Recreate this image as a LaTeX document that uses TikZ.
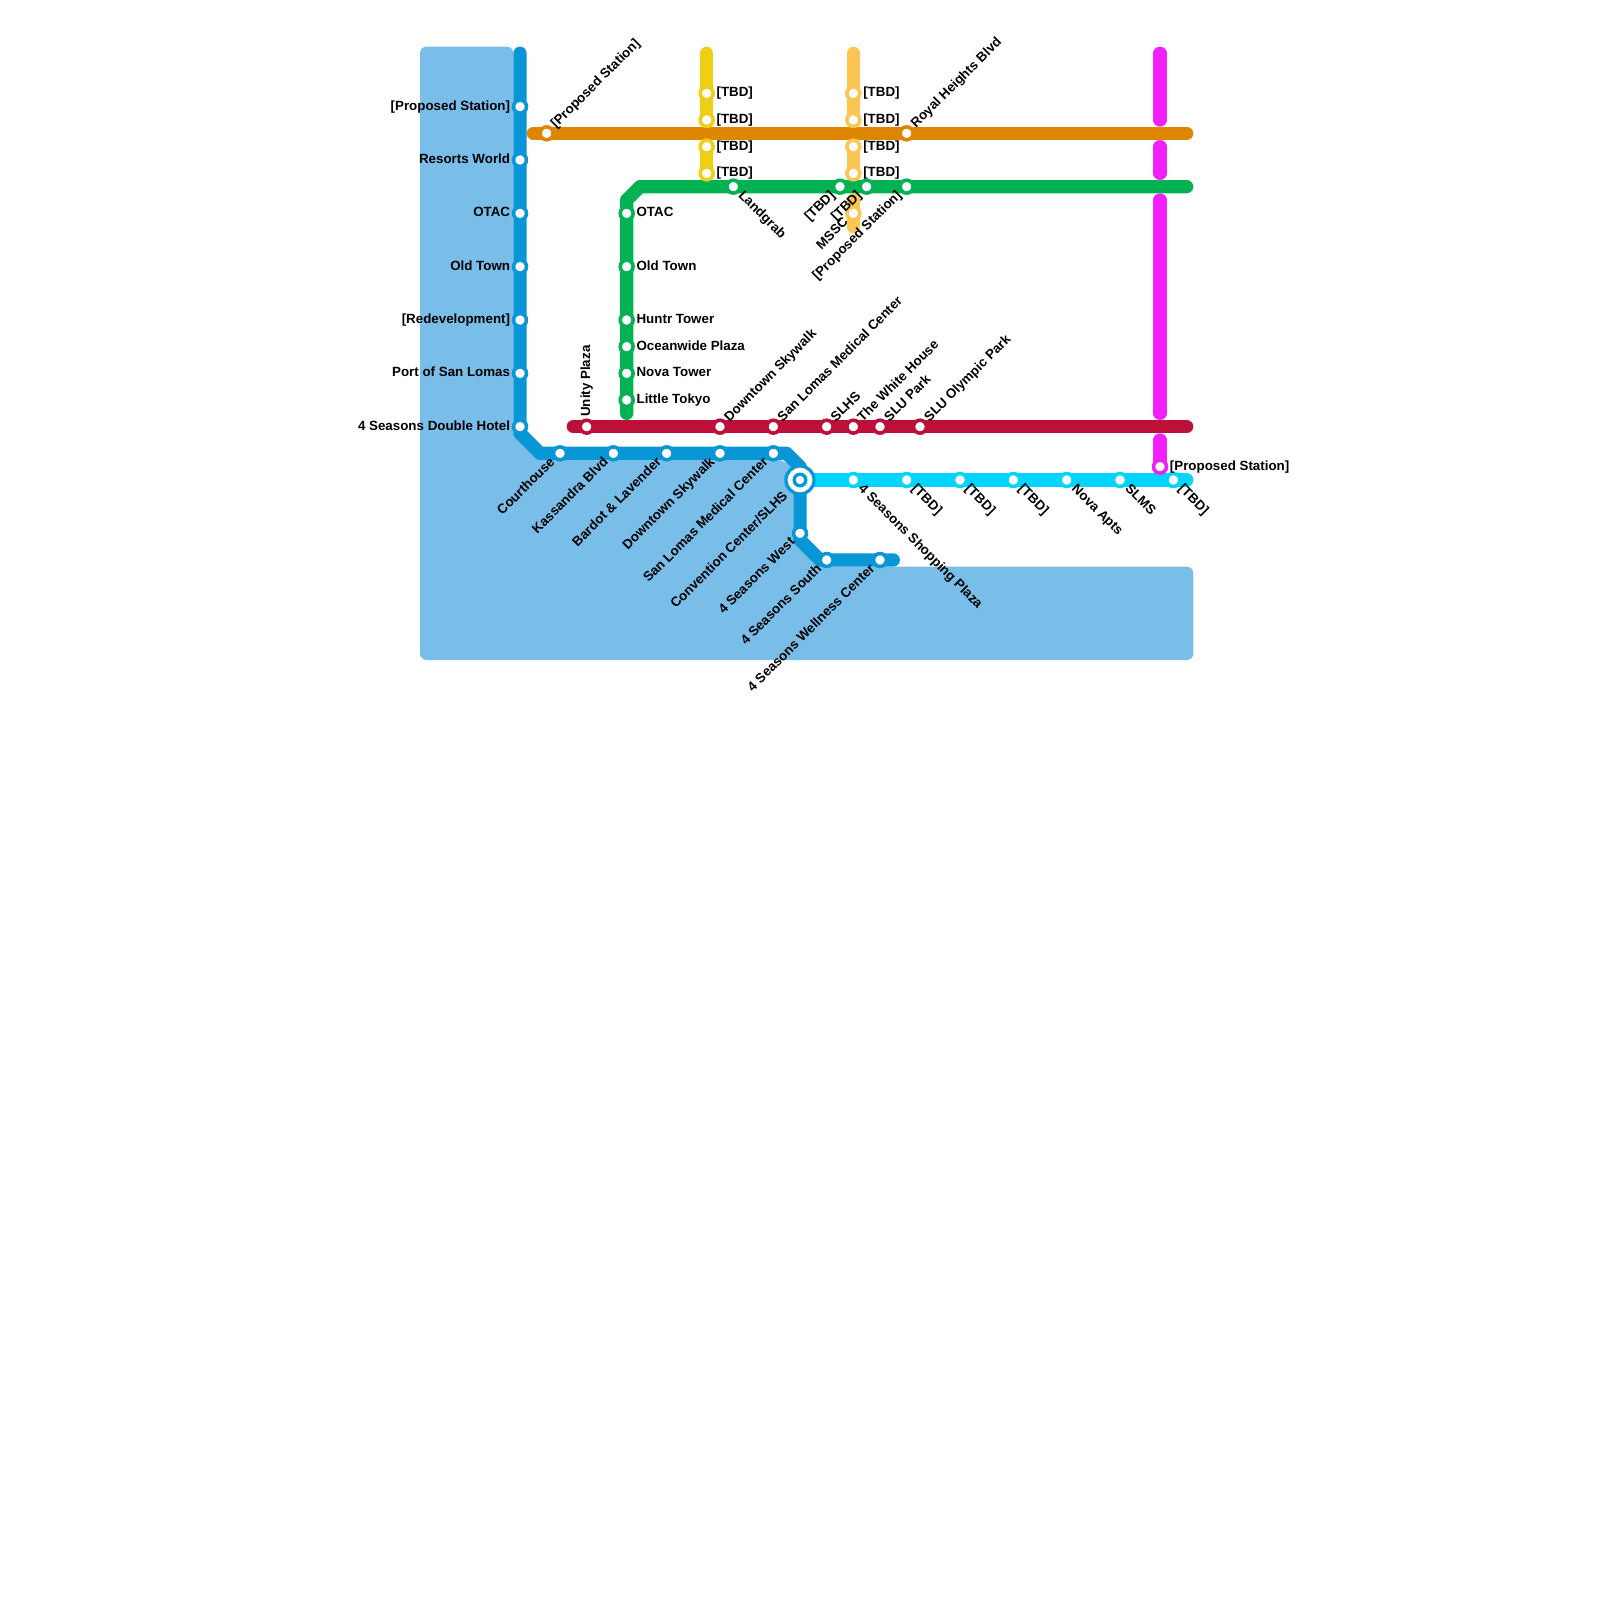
\documentclass[tikz,border=0pt]{standalone}
\usepackage{fontspec}
\setmainfont{Liberation Sans}
\usetikzlibrary{backgrounds}
\definecolor{waterblue}{HTML}{79BDE9}
\definecolor{lineblue}{HTML}{0896D7}
\definecolor{lineorange}{HTML}{DF8600}
\definecolor{lineyellow}{HTML}{F0CE15}
\definecolor{linepeach}{HTML}{FDC652}
\definecolor{linegreen}{HTML}{00B251}
\definecolor{linered}{HTML}{BD1038}
\definecolor{linepink}{HTML}{F31FFB}
\definecolor{linecyan}{HTML}{00D4FF}
\tikzset{
  route/.style={line width=7.09pt,line cap=round,line join=round},
  stn/.style={circle,fill=white,draw=#1,line width=1.9pt,minimum size=6.9pt,inner sep=0pt},
  lbl/.style={font=\bfseries\fontsize{7.12pt}{9pt}\selectfont,inner sep=0pt,outer sep=0pt},
  lbl r/.style={lbl,anchor=base west,xshift=5.3pt,yshift=-1.86pt},
  lbl l/.style={lbl,anchor=base east,xshift=-5.3pt,yshift=-1.86pt},
  lbl ur/.style={lbl,rotate=45,anchor=base west,xshift=5.3pt,yshift=-1.86pt},
  lbl dl/.style={lbl,rotate=45,anchor=base east,xshift=-5.3pt,yshift=-1.86pt},
  lbl dr/.style={lbl,rotate=-45,anchor=base west,xshift=5.3pt,yshift=-1.86pt},
  lbl up/.style={lbl,rotate=90,anchor=base west,xshift=5.3pt,yshift=-1.86pt},
}
\begin{document}
\begin{tikzpicture}[x=0.25cm,y=-0.25cm]
  \useasboundingbox (0,0) rectangle (120,120);
  % Blue line stations
  \node[stn=lineblue] (bl1) at (39,8) {};  \node[lbl l] (bl1t) at (bl1) {[Proposed Station]};
  \node[stn=lineblue] (bl2) at (39,12) {}; \node[lbl l] (bl2t) at (bl2) {Resorts World};
  \node[stn=lineblue] (bl3) at (39,16) {}; \node[lbl l] (bl3t) at (bl3) {OTAC};
  \node[stn=lineblue] (bl4) at (39,20) {}; \node[lbl l] (bl4t) at (bl4) {Old Town};
  \node[stn=lineblue] (bl5) at (39,24) {}; \node[lbl l] (bl5t) at (bl5) {[Redevelopment]};
  \node[stn=lineblue] (bl6) at (39,28) {}; \node[lbl l] (bl6t) at (bl6) {Port of San Lomas};
  \node[stn=lineblue] (bl7) at (39,32) {}; \node[lbl l] (bl7t) at (bl7) {4 Seasons Double Hotel};
  \node[stn=lineblue] (bl8) at (42,34) {}; \node[lbl dl] (bl8t) at (bl8) {Courthouse};
  \node[stn=lineblue] (bl9) at (46,34) {}; \node[lbl dl] (bl9t) at (bl9) {Kassandra Blvd};
  \node[stn=lineblue] (bl10) at (50,34) {}; \node[lbl dl] (bl10t) at (bl10) {Bardot \& Lavender};
  \node[stn=lineblue] (bl11) at (54,34) {}; \node[lbl dl] (bl11t) at (bl11) {Downtown Skywalk};
  \node[stn=lineblue] (bl12) at (58,34) {}; \node[lbl dl] (bl12t) at (bl12) {San Lomas Medical Center};
  \node[stn=lineblue] (bl14) at (60,40) {}; \node[lbl dl] (bl14t) at (bl14) {4 Seasons West};
  \node[stn=lineblue] (bl15) at (62,42) {}; \node[lbl dl] (bl15t) at (bl15) {4 Seasons South};
  \node[stn=lineblue] (bl16) at (66,42) {}; \node[lbl dl] (bl16t) at (bl16) {4 Seasons Wellness Center};
  % Interchange
  \node[circle,fill=white,draw=lineblue,line width=1.77pt,minimum size=15pt,inner sep=0pt] (hub) at (60,36) {};
  \node[circle,fill=white,draw=lineblue,line width=1.77pt,minimum size=6.2pt,inner sep=0pt] (hubcore) at (hub) {};
  \node[lbl dl,xshift=-5.5pt] (hubt) at (hub) {Convention Center/SLHS};
  % Orange line stations
  \node[stn=lineorange] (or1) at (41,10) {}; \node[lbl ur] (or1t) at (or1) {[Proposed Station]};
  \node[stn=lineorange] (or2) at (68,10) {}; \node[lbl ur] (or2t) at (or2) {Royal Heights Blvd};
  % Yellow line stations
  \node[stn=lineyellow] (ye1) at (53,7) {};  \node[lbl r] (ye1t) at (ye1) {[TBD]};
  \node[stn=lineyellow] (ye2) at (53,9) {};  \node[lbl r] (ye2t) at (ye2) {[TBD]};
  \node[stn=lineyellow] (ye3) at (53,11) {}; \node[lbl r] (ye3t) at (ye3) {[TBD]};
  \node[stn=lineyellow] (ye4) at (53,13) {}; \node[lbl r] (ye4t) at (ye4) {[TBD]};
  % Peach line stations
  \node[stn=linepeach] (pe1) at (64,7) {};  \node[lbl r] (pe1t) at (pe1) {[TBD]};
  \node[stn=linepeach] (pe2) at (64,9) {};  \node[lbl r] (pe2t) at (pe2) {[TBD]};
  \node[stn=linepeach] (pe3) at (64,11) {}; \node[lbl r] (pe3t) at (pe3) {[TBD]};
  \node[stn=linepeach] (pe4) at (64,13) {}; \node[lbl r] (pe4t) at (pe4) {[TBD]};
  \node[stn=linepeach] (pe5) at (64,16) {}; \node[lbl dl] (pe5t) at (pe5) {MSSC};
  % Green line stations
  \node[stn=linegreen] (gr1) at (47,16) {}; \node[lbl r] (gr1t) at (gr1) {OTAC};
  \node[stn=linegreen] (gr2) at (47,20) {}; \node[lbl r] (gr2t) at (gr2) {Old Town};
  \node[stn=linegreen] (gr3) at (47,24) {}; \node[lbl r] (gr3t) at (gr3) {Huntr Tower};
  \node[stn=linegreen] (gr4) at (47,26) {}; \node[lbl r] (gr4t) at (gr4) {Oceanwide Plaza};
  \node[stn=linegreen] (gr5) at (47,28) {}; \node[lbl r] (gr5t) at (gr5) {Nova Tower};
  \node[stn=linegreen] (gr6) at (47,30) {}; \node[lbl r] (gr6t) at (gr6) {Little Tokyo};
  \node[stn=linegreen] (gr7) at (55,14) {}; \node[lbl dr] (gr7t) at (gr7) {Landgrab};
  \node[stn=linegreen] (gr8) at (63,14) {}; \node[lbl dl] (gr8t) at (gr8) {[TBD]};
  \node[stn=linegreen] (gr9) at (65,14) {}; \node[lbl dl] (gr9t) at (gr9) {[TBD]};
  \node[stn=linegreen] (gr10) at (68,14) {}; \node[lbl dl] (gr10t) at (gr10) {[Proposed Station]};
  % Red line stations
  \node[stn=linered] (re1) at (44,32) {}; \node[lbl up] (re1t) at (re1) {Unity Plaza};
  \node[stn=linered] (re2) at (54,32) {}; \node[lbl ur] (re2t) at (re2) {Downtown Skywalk};
  \node[stn=linered] (re3) at (58,32) {}; \node[lbl ur] (re3t) at (re3) {San Lomas Medical Center};
  \node[stn=linered] (re4) at (62,32) {}; \node[lbl ur] (re4t) at (re4) {SLHS};
  \node[stn=linered] (re5) at (64,32) {}; \node[lbl ur] (re5t) at (re5) {The White House};
  \node[stn=linered] (re6) at (66,32) {}; \node[lbl ur] (re6t) at (re6) {SLU Park};
  \node[stn=linered] (re7) at (69,32) {}; \node[lbl ur] (re7t) at (re7) {SLU Olympic Park};
  % Cyan line stations
  \node[stn=linecyan] (cy1) at (64,36) {}; \node[lbl dr] (cy1t) at (cy1) {4 Seasons Shopping Plaza};
  \node[stn=linecyan] (cy2) at (68,36) {}; \node[lbl dr] (cy2t) at (cy2) {[TBD]};
  \node[stn=linecyan] (cy3) at (72,36) {}; \node[lbl dr] (cy3t) at (cy3) {[TBD]};
  \node[stn=linecyan] (cy4) at (76,36) {}; \node[lbl dr] (cy4t) at (cy4) {[TBD]};
  \node[stn=linecyan] (cy5) at (80,36) {}; \node[lbl dr] (cy5t) at (cy5) {Nova Apts};
  \node[stn=linecyan] (cy6) at (84,36) {}; \node[lbl dr] (cy6t) at (cy6) {SLMS};
  \node[stn=linecyan] (cy7) at (88,36) {}; \node[lbl dr] (cy7t) at (cy7) {[TBD]};
  % Pink line station
  \node[stn=linepink] (pk1) at (87,35) {}; \node[lbl r] (pk1t) at (pk1) {[Proposed Station]};
  % Line ends and bends
  \coordinate (blA) at (39,4);
  \coordinate (blB) at (39,32.5);
  \coordinate (blC) at (40.5,34);
  \coordinate (blD) at (59,34);
  \coordinate (blE) at (60,35);
  \coordinate (blF) at (60,40.5);
  \coordinate (blG) at (61.5,42);
  \coordinate (blH) at (67,42);
  \coordinate (orA) at (40,10);
  \coordinate (orB) at (89,10);
  \coordinate (yeA) at (53,4);
  \coordinate (peA) at (64,4);
  \coordinate (peB) at (64,15);
  \coordinate (peC) at (64,17);
  \coordinate (grA) at (47,31);
  \coordinate (grB) at (47,15);
  \coordinate (grC) at (48,14);
  \coordinate (grD) at (89,14);
  \coordinate (reA) at (43,32);
  \coordinate (reB) at (89,32);
  \coordinate (cyA) at (89,36);
  \coordinate (pkA) at (87,4);
  \coordinate (pkB) at (87,9);
  \coordinate (pkC) at (87,11);
  \coordinate (pkD) at (87,13);
  \coordinate (pkE) at (87,15);
  \coordinate (pkF) at (87,31);
  \coordinate (pkG) at (87,33);
  \begin{scope}[on background layer]
    % Water
    \fill[waterblue,rounded corners=3.5pt] (31.5,3.5) -- (38.5,3.5) -- (38.5,32.7) -- (40.3,34.5) -- (58.8,34.5) -- (59.5,35.2) -- (59.5,40.7) -- (61.3,42.5) -- (89.5,42.5) -- (89.5,49.5) -- (31.5,49.5) -- cycle;
    % Lines
    \draw[route,lineyellow] (yeA) -- (ye2.center);
    \draw[route,lineyellow] (ye3.center) -- (ye4.center);
    \draw[route,linepeach] (peA) -- (pe2.center);
    \draw[route,linepeach] (pe3.center) -- (pe4.center);
    \draw[route,linepeach] (peB) -- (peC);
    \draw[route,linepink] (pkA) -- (pkB);
    \draw[route,linepink] (pkC) -- (pkD);
    \draw[route,linepink] (pkE) -- (pkF);
    \draw[route,linepink] (pkG) -- (pk1.center);
    \draw[route,lineorange] (orA) -- (orB);
    \draw[route,linegreen] (grA) -- (grB) -- (grC) -- (grD);
    \draw[route,linered] (reA) -- (reB);
    \draw[route,linecyan] (hub.center) -- (cyA);
    \draw[route,lineblue] (blA) -- (blB) -- (blC) -- (blD) -- (blE) -- (blF) -- (blG) -- (blH);
  \end{scope}
\end{tikzpicture}
\end{document}
